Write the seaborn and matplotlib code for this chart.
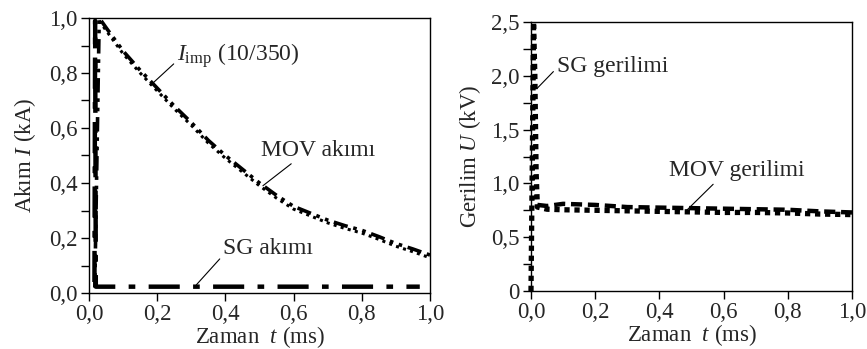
import numpy as np
import pandas as pd
import matplotlib
matplotlib.use("Agg")
import matplotlib.pyplot as plt
from matplotlib.ticker import FixedLocator, MultipleLocator
import seaborn as sns

# ---------------- data ----------------
# Left panel: currents (kA) vs time (ms)
t_imp = [0.017, 0.03, 0.05, 0.10, 0.15, 0.20, 0.25, 0.30, 0.35, 0.40, 0.45, 0.50,
         0.55, 0.60, 0.65, 0.70, 0.75, 0.80, 0.85, 0.90, 0.95, 1.00]
i_imp = [0.02, 1.00, 0.965, 0.88, 0.81, 0.745, 0.68, 0.62, 0.555, 0.50, 0.45, 0.40,
         0.355, 0.315, 0.29, 0.265, 0.245, 0.228, 0.205, 0.18, 0.16, 0.138]
t_mov_i = [0.03, 0.05, 0.10, 0.15, 0.20, 0.25, 0.30, 0.35, 0.40, 0.45, 0.50,
           0.55, 0.60, 0.65, 0.70, 0.75, 0.80, 0.85, 0.90, 0.95, 1.00]
i_mov = [0.99, 0.955, 0.87, 0.80, 0.735, 0.67, 0.61, 0.545, 0.49, 0.44, 0.39,
         0.345, 0.305, 0.28, 0.255, 0.235, 0.218, 0.195, 0.17, 0.15, 0.128]
t_sg_i = [0.016, 0.018, 0.020, 0.97]
i_sg = [0.04, 0.99, 0.023, 0.023]

# Right panel: voltages (kV) vs time (ms)
t_sg_u = [0.0, 0.004, 0.008, 0.012, 0.016, 0.020, 0.05, 0.10, 0.20, 0.30, 0.40,
          0.50, 0.60, 0.70, 0.80, 0.90, 1.00]
u_sg = [0.0, 1.2, 2.5, 2.0, 1.1, 0.78, 0.76, 0.755, 0.75, 0.745, 0.74,
        0.735, 0.73, 0.73, 0.725, 0.715, 0.71]
t_mov_u = [0.02, 0.05, 0.10, 0.20, 0.30, 0.40, 0.50, 0.60, 0.70, 0.80, 0.90, 1.00]
u_mov = [0.80, 0.79, 0.81, 0.80, 0.78, 0.775, 0.77, 0.765, 0.76, 0.755, 0.74, 0.73]

x_ticks = [0.0, 0.2, 0.4, 0.6, 0.8, 1.0]
x_ticklabels = ["0,0", "0,2", "0,4", "0,6", "0,8", "1,0"]
yl_ticks = [0.0, 0.2, 0.4, 0.6, 0.8, 1.0]
yl_ticklabels = ["0,0", "0,2", "0,4", "0,6", "0,8", "1,0"]
yr_ticks = [0.0, 0.5, 1.0, 1.5, 2.0, 2.5]
yr_ticklabels = ["0", "0,5", "1,0", "1,5", "2,0", "2,5"]

# ---------------- style ----------------
sns.set_theme(style="ticks")
plt.rcParams["font.family"] = ["Liberation Serif", "DejaVu Serif"]
plt.rcParams["mathtext.fontset"] = "custom"
plt.rcParams["mathtext.rm"] = "Liberation Serif"
plt.rcParams["mathtext.it"] = "Liberation Serif:italic"
FS_T = 16.5
FS_L = 16.5
FS_A = 17

fig = plt.figure(figsize=(8.67, 3.49), dpi=100)
axL = fig.add_axes([89/867, 1-293/349, (430-89)/867, (293-18)/349])
axR = fig.add_axes([531/867, 1-291/349, (852-531)/867, (291-22)/349])

k = "black"
# Left panel lines
sns.lineplot(x=t_imp, y=i_imp, ax=axL, color=k, sort=False, estimator=None,
             lw=2.6, linestyle=(0, (4, 1.6, 1, 1.6, 1, 1.6)))
sns.lineplot(x=t_mov_i, y=i_mov, ax=axL, color=k, sort=False, estimator=None,
             lw=2.2, linestyle=(0, (1, 1.4)))
sns.lineplot(x=t_sg_i, y=i_sg, ax=axL, color=k, sort=False, estimator=None,
             lw=3.2, linestyle=(0, (7, 3, 1.5, 3)))

# Right panel lines
sns.lineplot(x=t_mov_u, y=u_mov, ax=axR, color=k, sort=False, estimator=None,
             lw=3.2, linestyle=(0, (2.5, 1.3)))
sns.lineplot(x=t_sg_u, y=u_sg, ax=axR, color=k, sort=False, estimator=None,
             lw=3.8, linestyle=(0, (1, 0.9)), clip_on=False)

for ax in (axL, axR):
    ax.set_xlim(0, 1.0)
    ax.xaxis.set_major_locator(FixedLocator(x_ticks))
    ax.set_xticklabels(x_ticklabels, fontsize=FS_T)
    for s in ax.spines.values():
        s.set_visible(True)
        s.set_color(k)
        s.set_linewidth(1.0)
    ax.tick_params(axis="both", which="both", direction="out", length=6,
                   width=1.0, color=k, labelsize=FS_T, pad=2,
                   top=False, right=False)
    ax.set_xlabel(r"Zaman  $\it{t}$ (ms)", fontsize=FS_L, labelpad=-1)
    ax.grid(False)

axL.set_ylim(0, 1.0)
axL.yaxis.set_major_locator(FixedLocator(yl_ticks))
axL.set_yticklabels(yl_ticklabels, fontsize=FS_T)
axL.yaxis.set_minor_locator(MultipleLocator(0.1))
axL.set_ylabel(r"Akım $\it{I}$ (kA)", fontsize=FS_L, labelpad=8)

axR.set_ylim(0, 2.5)
axR.yaxis.set_major_locator(FixedLocator(yr_ticks))
axR.set_yticklabels(yr_ticklabels, fontsize=FS_T)
axR.yaxis.set_minor_locator(MultipleLocator(0.25))
axR.set_ylabel(r"Gerilim $\it{U}$ (kV)", fontsize=FS_L, labelpad=6)

# annotations (left)
axL.annotate(r"$\it{I}_{\rm imp}$ (10/350)", xy=(0.18, 0.755), xytext=(0.258, 0.865),
             fontsize=FS_A, va="center", ha="left",
             arrowprops=dict(arrowstyle="-", color=k, lw=0.8, shrinkA=0, shrinkB=0,
                             relpos=(0, 0.3)))
axL.annotate("MOV akımı", xy=(0.51, 0.39), xytext=(0.505, 0.52),
             fontsize=FS_A, va="center", ha="left",
             arrowprops=dict(arrowstyle="-", color=k, lw=0.8, shrinkA=0, shrinkB=0,
                             relpos=(0.3, 0)))
axL.annotate("SG akımı", xy=(0.315, 0.03), xytext=(0.393, 0.16),
             fontsize=FS_A, va="center", ha="left",
             arrowprops=dict(arrowstyle="-", color=k, lw=0.8, shrinkA=0, shrinkB=0,
                             relpos=(0, 0.2)))
# annotations (right)
axR.annotate("SG gerilimi", xy=(0.018, 1.88), xytext=(0.08, 2.09),
             fontsize=FS_A, va="center", ha="left",
             arrowprops=dict(arrowstyle="-", color=k, lw=0.8, shrinkA=0, shrinkB=0,
                             relpos=(0, 0.4)))
axR.annotate("MOV gerilimi", xy=(0.485, 0.75), xytext=(0.43, 1.12),
             fontsize=FS_A, va="center", ha="left",
             arrowprops=dict(arrowstyle="-", color=k, lw=0.8, shrinkA=0, shrinkB=0,
                             relpos=(0.35, 0)))

fig.savefig("out.png", dpi=100)
